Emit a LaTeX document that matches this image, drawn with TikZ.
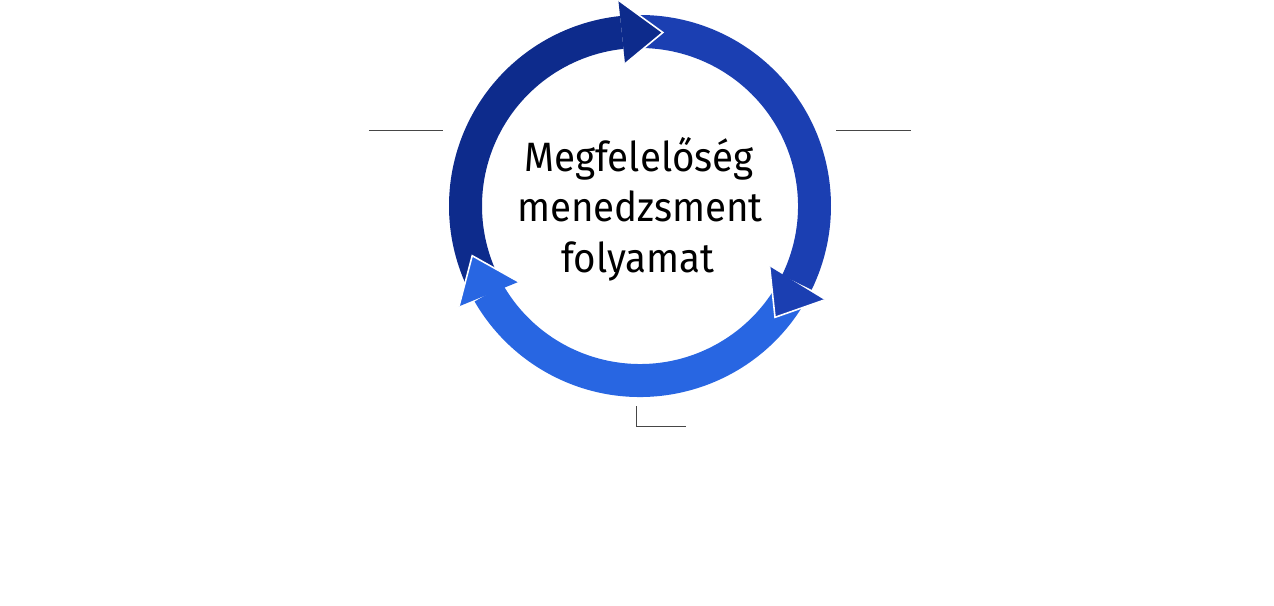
\documentclass[tikz,border=0pt]{standalone}
\usepackage{fontspec}
\setmainfont{Fira Sans}[FakeStretch=0.94]
\definecolor{ringdark}{RGB}{13,43,140}
\definecolor{ringmid}{RGB}{27,63,178}
\definecolor{ringlight}{RGB}{40,102,226}
\definecolor{leader}{RGB}{70,70,70}
\begin{document}
\begin{tikzpicture}[x=1pt,y=1pt,
    headline/.style={white, line width=1.6pt, line join=miter},
    leaderline/.style={leader, line width=1pt},
    caption/.style={font=\fontsize{41}{50}\selectfont, anchor=base, inner sep=0pt}]
    % Fix the page to the size of the reference
    \useasboundingbox (-640,-399) rectangle (634,206);
    % Dark arc on the left, running up to the top
    \fill[ringdark] (206:191) arc[start angle=206, end angle=96, radius=191]
        -- (96:158) arc[start angle=96, end angle=206, radius=158] -- cycle;
    % Middle arc on the right, running down
    \fill[ringmid] (92:191) arc[start angle=92, end angle=-26, radius=191]
        -- (-26:158) arc[start angle=-26, end angle=92, radius=158] -- cycle;
    % Light arc at the bottom, running back to the left
    \fill[ringlight] (-29:191) arc[start angle=-29, end angle=-150, radius=191]
        -- (-150:158) arc[start angle=-150, end angle=-29, radius=158] -- cycle;
    % Head of the dark arc at the top
    \fill[ringdark] (96:143) -- (96:207) -- (82.5:175) -- cycle;
    \draw[headline] (96:207) -- (82.5:175) -- (96:143);
    % Head of the middle arc at the lower right
    \fill[ringmid] (-25:143) -- (-27:207) -- (-39.5:175) -- cycle;
    \draw[headline] (-27:207) -- (-39.5:175) -- (-25:143);
    % Head of the light arc at the lower left
    \fill[ringlight] (-148:143) -- (-151:207) -- (-163.5:175) -- cycle;
    \draw[headline] (-151:207) -- (-163.5:175) -- (-148:143);
    % Text in the middle of the ring
    \node[caption] (line1) at (-1,34) {Megfelelőség};
    \node[caption] (line2) at (0,-16) {menedzsment};
    \node[caption] (line3) at (-2,-66) {folyamat};
    % Leader lines left, right and below
    \coordinate (lefta) at (-271,75);
    \coordinate (leftb) at (-197,75);
    \coordinate (righta) at (196,75);
    \coordinate (rightb) at (271,75);
    \coordinate (bottoma) at (-4,-200);
    \coordinate (bottomb) at (-4,-220);
    \coordinate (bottomc) at (46,-220);
    \draw[leaderline] (lefta) -- (leftb);
    \draw[leaderline] (righta) -- (rightb);
    \draw[leaderline] (bottoma) -- (bottomb) -- (bottomc);
\end{tikzpicture}
\end{document}
